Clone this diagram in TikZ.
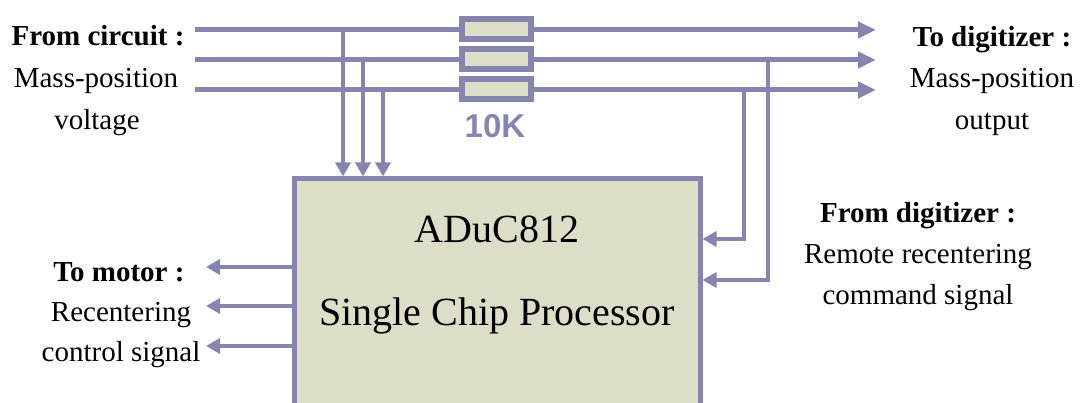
\documentclass[tikz,border=0pt]{standalone}
\usepackage{fontspec}
\setmainfont{Liberation Serif}
\newfontfamily\arialfont{Liberation Sans}
\usetikzlibrary{arrows.meta}
\definecolor{wire}{RGB}{133,133,176}
\definecolor{chip}{RGB}{221,221,200}
\begin{document}
\begin{tikzpicture}[x=1pt,y=-1pt,
  bus/.style={draw=wire, line width=5pt, -{Triangle[length=18pt,width=16pt]}},
  tap/.style={draw=wire, line width=4pt, -{Triangle[length=14pt,width=15pt]}},
  res/.style={draw=wire, fill=chip, line width=6pt, minimum width=69pt, minimum height=20pt, inner sep=0pt},
  chipstyle/.style={draw=wire, fill=chip, line width=5pt, minimum width=406pt, minimum height=262pt, inner sep=0pt},
  lbl/.style={font=\fontsize{29}{35}\selectfont, anchor=base, inner sep=0pt},
  hd/.style={lbl, font=\fontsize{29}{35}\selectfont\bfseries},
  big/.style={font=\fontsize{40}{48}\selectfont, anchor=base, inner sep=0pt},
  reslbl/.style={font=\arialfont\bfseries\fontsize{33}{38}\selectfont, text=wire, anchor=base, inner sep=0pt}
]
\useasboundingbox (0,0) rectangle (1080,403);
\clip (0,0) rectangle (1080,403);

% input / output points
\coordinate (in1) at (195,30);
\coordinate (in2) at (195,60);
\coordinate (in3) at (195,90);
\coordinate (out1) at (876,30);
\coordinate (out2) at (876,60);
\coordinate (out3) at (876,90);

% main signal lines
\draw[bus] (in1) -- (out1);
\draw[bus] (in2) -- (out2);
\draw[bus] (in3) -- (out3);

% resistors
\node[res] (r1) at (496.5,29) {};
\node[res] (r2) at (496.5,59) {};
\node[res] (r3) at (496.5,89) {};
\node[reslbl] (rlbl) at (495,138) {10K};

% chip
\node[chipstyle] (chipbox) at (497,310) {};
\node[big] (t1) at (497,243) {ADuC812};
\node[big] (t2) at (497,326) {Single Chip Processor};

% taps into chip
\coordinate (d1) at (343,30);
\coordinate (d2) at (363,60);
\coordinate (d3) at (383,90);
\draw[tap] (d1) -- (d1 |- chipbox.north);
\draw[tap] (d2) -- (d2 |- chipbox.north);
\draw[tap] (d3) -- (d3 |- chipbox.north);

% feedback from digitizer
\coordinate (f1) at (744,90);
\coordinate (f1b) at (744,239);
\coordinate (f2) at (768,60);
\coordinate (f2b) at (768,280);
\draw[tap] (f1) -- (f1b) -- (chipbox.east |- f1b);
\draw[tap] (f2) -- (f2b) -- (chipbox.east |- f2b);

% to motor
\coordinate (m1) at (206,267);
\coordinate (m2) at (206,306);
\coordinate (m3) at (206,346);
\draw[tap] (chipbox.west |- m1) -- (m1);
\draw[tap] (chipbox.west |- m2) -- (m2);
\draw[tap] (chipbox.west |- m3) -- (m3);

% labels
\node[hd]  (lc1) at (98,46)  {From circuit :};
\node[lbl] (lc2) at (96,88)  {Mass-position};
\node[lbl] (lc3) at (97,130) {voltage};

\node[hd]  (ld1) at (992,47)  {To digitizer :};
\node[lbl] (ld2) at (992,88)  {Mass-position};
\node[lbl] (ld3) at (992,130) {output};

\node[hd]  (lr1) at (918,223) {From digitizer :};
\node[lbl] (lr2) at (918,264) {Remote recentering};
\node[lbl] (lr3) at (918,305) {command signal};

\node[hd]  (lm1) at (119,282) {To motor :};
\node[lbl] (lm2) at (121,322) {Recentering};
\node[lbl] (lm3) at (121,362) {control signal};
\end{tikzpicture}
\end{document}
